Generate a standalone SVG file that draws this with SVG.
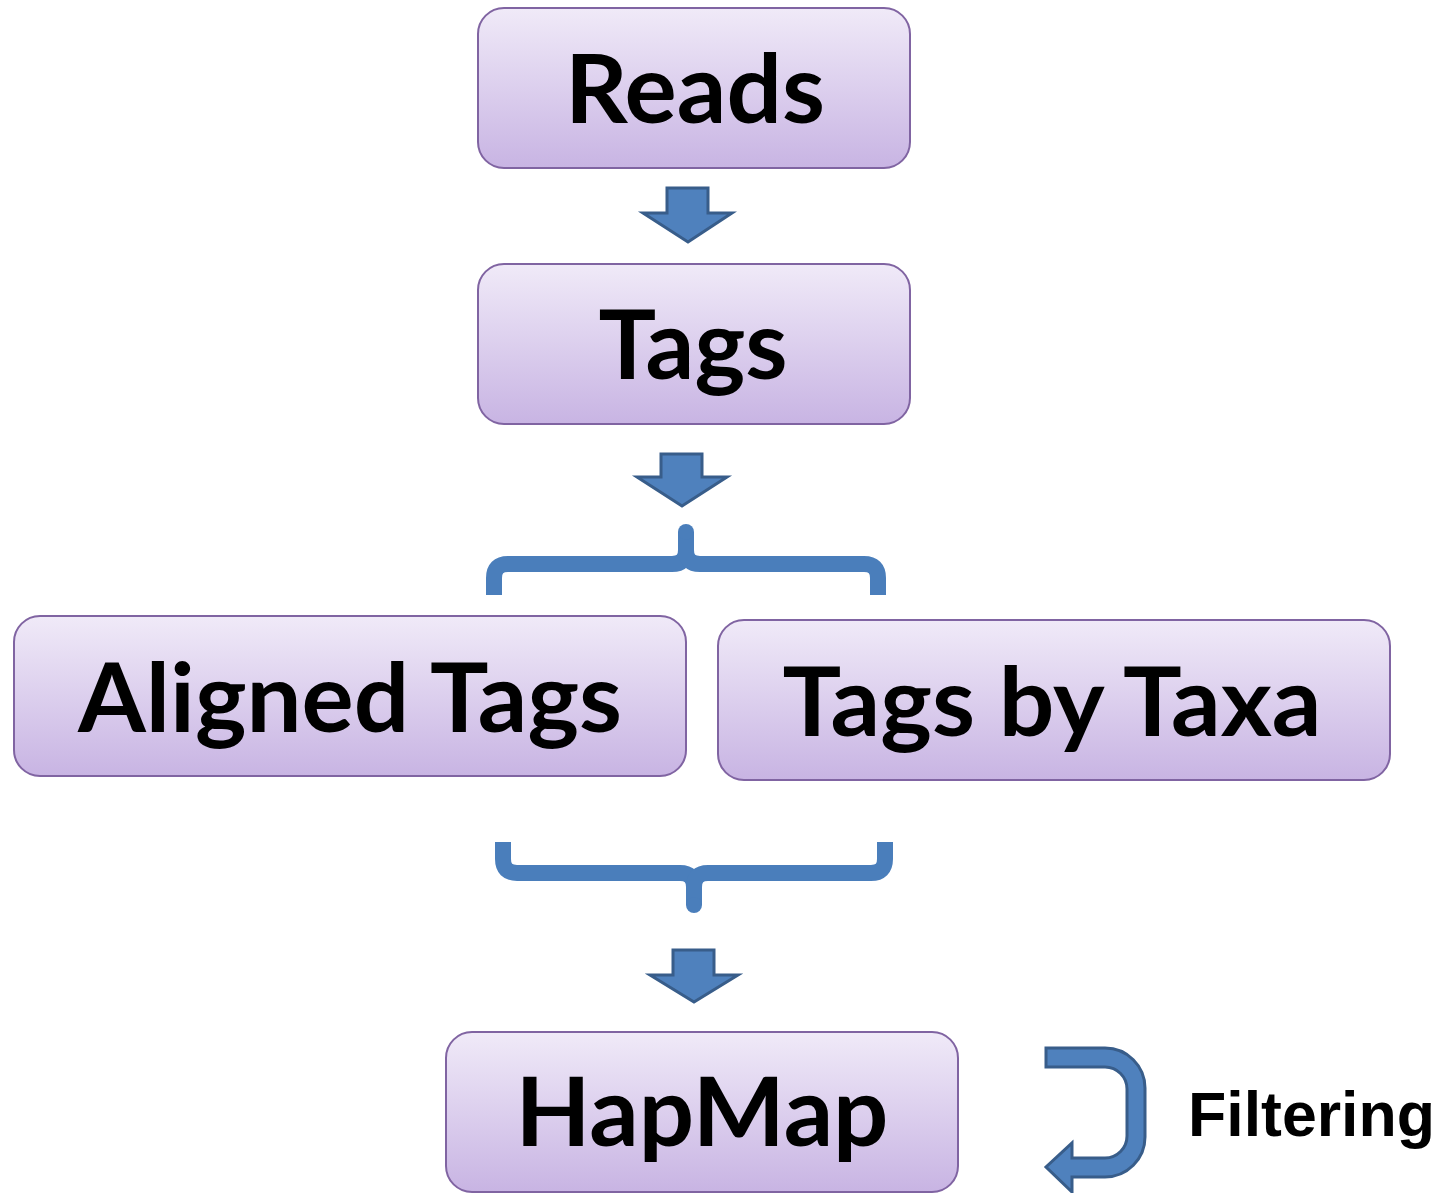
<svg xmlns="http://www.w3.org/2000/svg" width="1442" height="1193" viewBox="0 0 1442 1193">
  <defs>
    <linearGradient id="boxFill" x1="0" y1="0" x2="0" y2="1">
      <stop offset="0" stop-color="#F0EAF8"/>
      <stop offset="1" stop-color="#C8B4E3"/>
    </linearGradient>
  </defs>
  <style>
    .box { fill: url(#boxFill); stroke: #8064A2; stroke-width: 2; }
    .label { font-family: Lato, "Open Sans", "Liberation Sans", sans-serif; font-weight: bold; font-size: 95px; fill: #000; text-anchor: middle; }
    .side { font-family: "Liberation Sans", Arial, sans-serif; font-weight: bold; font-size: 63px; fill: #000; }
    .block { fill: #4F81BD; stroke: #385D8A; stroke-width: 3; stroke-linejoin: miter; }
    .brace { fill: none; stroke: #4A7EBB; stroke-width: 16; stroke-linecap: butt; stroke-linejoin: round; }
  </style>

  <!-- nodes -->
  <g id="reads">
    <rect class="box" x="478" y="8" width="432" height="160" rx="26"/>
    <text class="label" x="695" y="123" textLength="260" lengthAdjust="spacingAndGlyphs">Reads</text>
  </g>
  <g id="tags">
    <rect class="box" x="478" y="264" width="432" height="160" rx="26"/>
    <text class="label" x="693" y="379" textLength="189" lengthAdjust="spacingAndGlyphs">Tags</text>
  </g>
  <g id="aligned-tags">
    <rect class="box" x="14" y="616" width="672" height="160" rx="26"/>
    <text class="label" x="350" y="732" textLength="544" lengthAdjust="spacingAndGlyphs">Aligned Tags</text>
  </g>
  <g id="tags-by-taxa">
    <rect class="box" x="718" y="620" width="672" height="160" rx="26"/>
    <text class="label" x="1052" y="736" textLength="539" lengthAdjust="spacingAndGlyphs">Tags by Taxa</text>
  </g>
  <g id="hapmap">
    <rect class="box" x="446" y="1032" width="512" height="160" rx="26"/>
    <text class="label" x="702" y="1146" textLength="373" lengthAdjust="spacingAndGlyphs">HapMap</text>
  </g>
  <g id="filtering">
    <text class="side" x="1188" y="1136" textLength="247" lengthAdjust="spacingAndGlyphs">Filtering</text>
  </g>

  <!-- connectors -->
  <g id="connectors">
    <!-- block arrows -->
    <path class="block" d="M667 188 H708 V213 H732 L688 242 L643 213 H667 Z"/>
    <path class="block" d="M661 454 H702 V477 H727 L682 506 L637 477 H661 Z"/>
    <path class="block" d="M673 950 H714 V975 H738 L694 1002 L650 975 H673 Z"/>

    <!-- split brace above the two middle nodes -->
    <path class="brace" d="M494 595 V578 Q494 564 508 564 H672 Q686 564 686 550 V532"/>
    <path class="brace" d="M878 595 V578 Q878 564 864 564 H700 Q686 564 686 550"/>
    <circle cx="686" cy="532" r="8" fill="#4A7EBB"/>

    <!-- merge brace below the two middle nodes -->
    <path class="brace" d="M503 842 V859 Q503 873 517 873 H680 Q694 873 694 887 V905"/>
    <path class="brace" d="M885 842 V859 Q885 873 871 873 H708 Q694 873 694 887"/>
    <circle cx="694" cy="905" r="8" fill="#4A7EBB"/>

    <!-- curved filtering arrow -->
    <path class="block" stroke-linejoin="round" d="M1046 1048 H1105 A40 40 0 0 1 1145 1088 V1137 A40 40 0 0 1 1105 1177 H1072 V1192 L1046 1167 L1072 1143 V1158 H1105 A22 22 0 0 0 1127 1136 V1089 A22 22 0 0 0 1105 1067 H1046 Z"/>
  </g>
</svg>
